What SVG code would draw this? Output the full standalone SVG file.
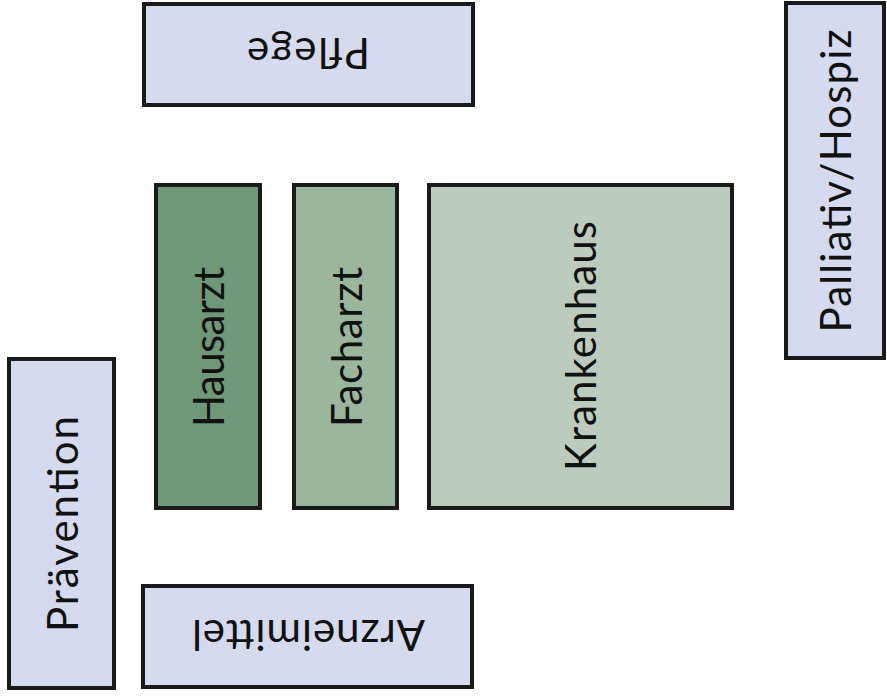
<svg xmlns="http://www.w3.org/2000/svg" width="887" height="698" viewBox="0 0 887 698">
<style>
.box{stroke:#1a1a1a;stroke-width:4}
.lav{fill:#d6daee}
.g1{fill:#6f977a}
.g2{fill:#9bb69f}
.g3{fill:#bccbbd}
.t{font-family:"Lato","Open Sans",sans-serif;font-size:42px;fill:#111;text-anchor:middle;dominant-baseline:central}
</style>
<rect width="887" height="698" fill="#ffffff"/>
<g id="pflege">
<rect class="box lav" x="144" y="4" width="329" height="101"/>
<text class="t" transform="translate(308.5,54) rotate(180)" textLength="123">Pflege</text>
</g>
<g id="palliativ">
<rect class="box lav" x="786" y="3" width="98" height="355"/>
<text class="t" transform="translate(835,181) rotate(-90)" textLength="303">Palliativ/Hospiz</text>
</g>
<g id="hausarzt">
<rect class="box g1" x="156" y="185" width="104" height="323"/>
<text class="t" transform="translate(208,347) rotate(-90)" textLength="160">Hausarzt</text>
</g>
<g id="facharzt">
<rect class="box g2" x="294" y="185" width="103" height="323"/>
<text class="t" transform="translate(345.5,347) rotate(-90)" textLength="160">Facharzt</text>
</g>
<g id="krankenhaus">
<rect class="box g3" x="429" y="185" width="303" height="323"/>
<text class="t" transform="translate(580,346) rotate(-90)" textLength="250">Krankenhaus</text>
</g>
<g id="praevention">
<rect class="box lav" x="9" y="359" width="105" height="329"/>
<text class="t" transform="translate(61.5,524) rotate(-90)" textLength="216">Prävention</text>
</g>
<g id="arzneimittel">
<rect class="box lav" x="143" y="586" width="329" height="101"/>
<text class="t" transform="translate(308.5,636) rotate(180)" textLength="233">Arzneimittel</text>
</g>
<g id="connectors"></g>
</svg>
